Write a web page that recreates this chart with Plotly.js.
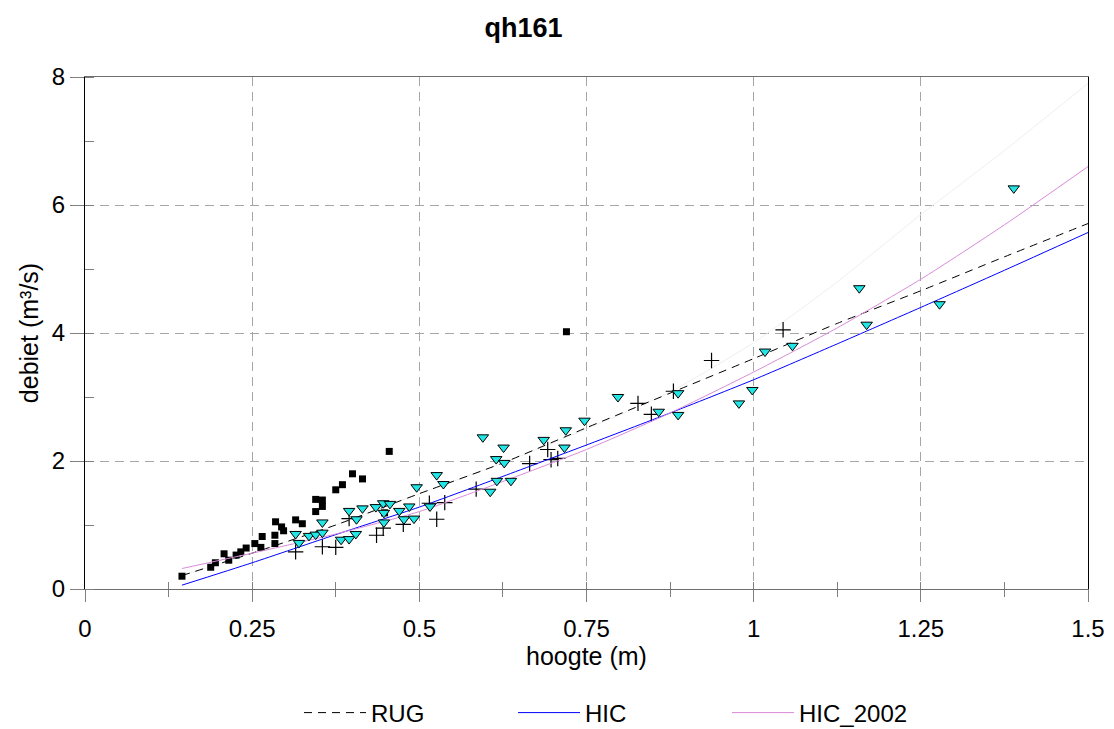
<!DOCTYPE html>
<html><head><meta charset="utf-8">
<script src="https://cdn.plot.ly/plotly-3.0.1.min.js"></script>
<style>html,body{margin:0;padding:0;background:#fff;}#chart{width:1114px;height:729px;}</style>
</head><body><div id="chart"></div>
<script>
const FONT = "'Liberation Sans Narrow', 'Arial Narrow', 'Liberation Sans', Arial, sans-serif";

// Measured points: black squares
const sqH = [0.145,0.188,0.195,0.208,0.215,0.226,0.233,0.241,0.254,0.263,0.265,0.284,0.284,0.285,0.294,0.297,0.315,0.325,0.345,0.355,0.345,0.355,0.375,0.385,0.400,0.415,0.455,0.448,0.720];
const sqQ = [0.20,0.34,0.41,0.55,0.45,0.53,0.58,0.64,0.71,0.65,0.82,0.71,0.84,1.05,0.97,0.91,1.08,1.02,1.21,1.29,1.40,1.39,1.55,1.63,1.80,1.72,2.15,1.19,4.02];

// Measured points: plus signs
const crH = [0.315,0.355,0.375,0.395,0.436,0.446,0.476,0.526,0.515,0.538,0.585,0.665,0.692,0.697,0.707,0.827,0.847,0.880,0.937,1.044];
const crQ = [0.58,0.66,0.65,1.10,0.84,0.95,1.01,1.09,1.34,1.35,1.56,1.96,2.18,2.02,2.04,2.90,2.73,3.09,3.57,4.05];

// Measured points: cyan triangles
const trH = [0.315,0.320,0.335,0.345,0.355,0.355,0.383,0.395,0.405,0.395,0.406,0.415,0.435,0.446,0.456,0.447,0.447,0.470,0.485,0.477,0.492,0.496,0.516,0.526,0.536,0.595,0.606,0.615,0.616,0.626,0.627,0.637,0.686,0.719,0.717,0.747,0.797,0.858,0.887,0.887,0.978,0.998,1.017,1.058,1.158,1.169,1.278,1.389];
const trQ = [0.86,0.72,0.83,0.85,0.88,1.04,0.77,0.78,0.86,1.22,1.09,1.26,1.28,1.34,1.33,1.19,1.04,1.22,1.29,1.09,1.10,1.59,1.29,1.78,1.64,2.37,1.52,2.03,1.69,2.21,1.97,1.69,2.33,2.48,2.21,2.63,3.00,2.77,3.06,2.72,2.90,3.11,3.71,3.80,4.70,4.13,4.45,6.26];

// Rating curves
const curveH = [0.145,0.25,0.375,0.5,0.625,0.75,0.875,1.0,1.125,1.25,1.375,1.5];
const rugQ   = [0.21,0.56,1.00,1.49,1.97,2.52,3.06,3.60,4.15,4.66,5.19,5.71];
const hicQ   = [0.06,0.41,0.85,1.28,1.76,2.25,2.75,3.27,3.83,4.40,4.98,5.57];
const hic02Q = [0.32,0.56,0.86,1.21,1.68,2.18,2.75,3.39,4.08,4.84,5.69,6.60];
const faintQ = [0.21,0.56,1.00,1.49,1.97,2.50,3.08,3.85,4.80,5.85,6.85,7.90];

const seriesNames = ['RUG','HIC','HIC_2002'];

const traces = [
  {x: curveH, y: faintQ, mode:'lines', line:{color:'#efefef', width:1, shape:'spline', smoothing:0.6}, showlegend:false, hoverinfo:'skip'},
  {x: sqH, y: sqQ, mode:'markers', marker:{symbol:'square', size:7, color:'#000'}, showlegend:false},
  {x: crH, y: crQ, mode:'markers', marker:{symbol:'cross-thin', size:11, line:{color:'#000', width:1.2}}, showlegend:false},
  {x: curveH, y: rugQ, name: seriesNames[0], mode:'lines', line:{color:'#000', width:1, dash:'8px,6px', shape:'spline', smoothing:0.6}},
  {x: curveH, y: hicQ, name: seriesNames[1], mode:'lines', line:{color:'#0000ff', width:1, shape:'spline', smoothing:0.6}},
  {x: curveH, y: hic02Q, name: seriesNames[2], mode:'lines', line:{color:'#d98bd9', width:1, shape:'spline', smoothing:0.6}},
  {x: trH, y: trQ, mode:'markers', marker:{symbol:'triangle-down', size:10, color:'#22e6e6', line:{color:'#000', width:1}}, showlegend:false},
  {x: [0], y: [0], xaxis:'x2', mode:'markers', marker:{opacity:0}, showlegend:false, hoverinfo:'skip'}
];

const gridCol = '#a6a6a6';
const tickCol = '#808080';
const layout = {
  width:1114, height:729,
  margin:{l:85, r:26, t:77, b:140, autoexpand:false},
  paper_bgcolor:'#fff', plot_bgcolor:'#fff',
  font:{family:FONT, color:'#000', size:24},
  title:{text:'<b>qh161</b>', font:{family:FONT, size:27, color:'#000'}, xref:'container', x:0.47, xanchor:'center', yref:'container', y:1-28/729, yanchor:'middle'},
  xaxis:{range:[0,1.5], dtick:0.25, tick0:0, showgrid:true, gridcolor:gridCol, griddash:'9px,6px', gridwidth:1, zeroline:false,
         showline:true, linecolor:'#6e6e6e', linewidth:1, mirror:true, ticks:'outside', ticklen:12, tickcolor:tickCol,
         ticklabelstandoff:6,
         minor:{dtick:0.125, tick0:0, ticks:'outside', ticklen:7, tickcolor:tickCol, showgrid:false},
         tickfont:{size:24}, title:{text:'hoogte (m)', font:{size:25}, standoff:1}, automargin:false},
  xaxis2:{range:[0,1.5], overlaying:'x', anchor:'y', side:'bottom', dtick:0.25, tick0:0, showgrid:false, zeroline:false, showline:false,
          showticklabels:false, ticks:'inside', ticklen:7, tickcolor:tickCol, automargin:false,
          minor:{dtick:0.125, tick0:0, ticks:'inside', ticklen:7, tickcolor:tickCol, showgrid:false}},
  yaxis:{range:[0,8], dtick:2, tick0:0, showgrid:true, gridcolor:gridCol, griddash:'9px,6px', gridwidth:1, zeroline:false,
         showline:true, linecolor:'#000', linewidth:1, mirror:true, ticks:'outside', ticklen:14, tickcolor:tickCol,
         minor:{dtick:1, tick0:0, ticks:'inside', ticklen:9, tickcolor:tickCol, showgrid:false},
         tickfont:{size:24}, title:{text:'debiet (m³/s)', font:{size:25}, standoff:6}, automargin:false},
  legend:{orientation:'h', x:(299-85)/1003, xanchor:'left', y:(589-713)/512, yanchor:'middle', yref:'paper',
          entrywidth:137, entrywidthmode:'pixels', itemwidth:62, font:{size:24}, bgcolor:'rgba(0,0,0,0)'},
  showlegend:true
};

Plotly.newPlot('chart', traces, layout, {staticPlot:true, displayModeBar:false});
</script>
</body></html>
